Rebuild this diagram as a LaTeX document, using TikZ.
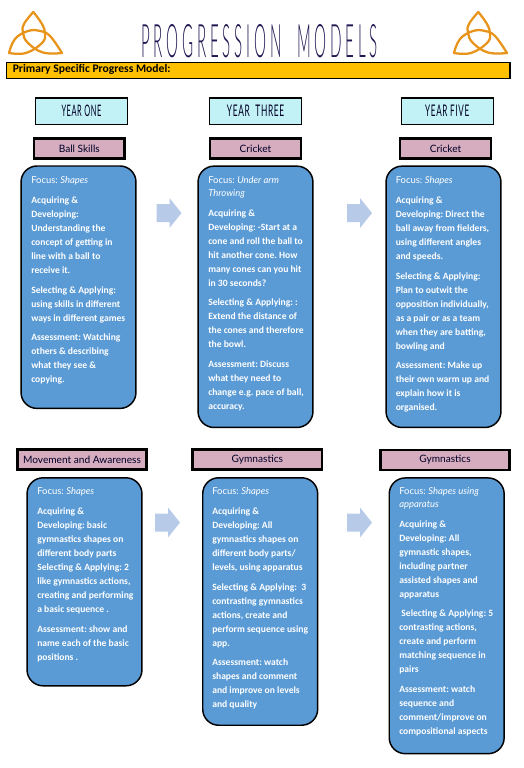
\documentclass[tikz,border=0pt]{standalone}
\usepackage{fontspec}
\setmainfont{Carlito}
\frenchspacing
\newfontfamily\focusfont{Lato}
\newfontfamily\topicfont{Lato}
\newfontfamily\thinfont[LetterSpace=25]{Lato Light}
\newfontfamily\yearfont[LetterSpace=8]{Lato}
\definecolor{boxblue}{HTML}{5B9BD5}
\definecolor{topicpink}{HTML}{D6ACBF}
\definecolor{yearcyan}{HTML}{C3F2F6}
\definecolor{bannergold}{HTML}{FFC000}
\definecolor{arrowblue}{HTML}{B7CBE8}
\definecolor{knotorange}{HTML}{E8941A}
\definecolor{titlenavy}{HTML}{1E1650}
\newcommand{\yearlabel}[1]{\resizebox{#1}{8.6pt}}
\newcommand{\fc}[1]{{\mdseries\focusfont\fontsize{7.1}{9.75}\selectfont Focus: \itshape #1}}
\newcommand{\fcb}[1]{{\mdseries\focusfont\fontsize{7.1}{9.75}\selectfont\itshape #1}}
\tikzset{
  x=0.75pt,y=-0.75pt,
  banner/.style={draw=black,line width=0.9pt,fill=bannergold,minimum width=378pt,minimum height=12.4pt,inner sep=0pt},
  yearbox/.style={draw=black,line width=0.8pt,fill=yearcyan,minimum width=69pt,minimum height=19.8pt,inner sep=0pt,text=black!85!blue},
  topicbox/.style={draw=black,line width=1.9pt,fill=topicpink,minimum height=15.2pt,inner sep=0pt,text=black!85!blue,font=\topicfont\fontsize{7.6}{9}\selectfont},
  bigbox/.style={draw=black,line width=1.1pt,fill=boxblue,rounded corners=12pt,minimum width=86.2pt,inner sep=0pt},
  bodytext/.style={anchor=north west,inner sep=0pt,text=white,align=left,font=\bfseries\fontsize{7.2}{10.5}\selectfont},
  pics/blockarrow/.style={code={\fill[arrowblue] (-12.5,-9) -- (0.5,-9) -- (0.5,-15) -- (12.5,0) -- (0.5,15) -- (0.5,9) -- (-12.5,9) -- cycle;}},
  pics/knot/.style={code={
    \begin{scope}[knotorange,line width=1.7pt,line cap=round]
      \draw plot[smooth,tension=0.7] coordinates {(33.3,12) (24,24) (23,33) (28,43) (43,52.5) (62,53)};
      \draw plot[smooth,tension=0.7] coordinates {(33.3,12) (42,24) (45,34) (42,43) (26,53) (9,53)};
      \draw plot[smooth,tension=0.7] coordinates {(9,53) (15,39) (28,31) (40,31) (50,36) (62,53)};
    \end{scope}}},
}
\begin{document}
\begin{tikzpicture}
\useasboundingbox (0,0) rectangle (524,768);
\pic at (0,0) {knot};
\pic at (445,0) {knot};
\node[inner sep=0pt,text=titlenavy] (title) at (259.5,41.5) {\resizebox{177.75pt}{24.75pt}{\thinfont PROGRESSION\ \ MODELS}};
\node[banner] (banner) at (258.5,70.5) {};
\node[anchor=west,inner sep=0pt,font=\bfseries\fontsize{8.7}{11}\selectfont] (bannertext) at (12.5,69.5) {Primary Specific Progress Model:};
\draw[black,line width=0.7pt] (509,62) -- (509,79);

\node[yearbox] (y1) at (81.5,111.2) {\yearlabel{30pt}{\yearfont YEAR ONE}};
\node[yearbox] (y3) at (255.6,111.2) {\yearlabel{43pt}{\yearfont YEAR\ \ THREE}};
\node[yearbox] (y5) at (447.2,111.2) {\yearlabel{33pt}{\yearfont YEAR FIVE}};

\node[topicbox,minimum width=68pt] (t1) at (79.3,148.5) {Ball Skills};
\node[topicbox,minimum width=68pt] (t2) at (255.5,148.5) {Cricket};
\node[topicbox,minimum width=68pt] (t3) at (445.5,148.5) {Cricket};
\node[topicbox,minimum width=97pt] (t4) at (82,459.5) {Movement and Awareness};
\node[topicbox,minimum width=97pt] (t5) at (257.3,459.5) {Gymnastics};
\node[topicbox,minimum width=97pt] (t6) at (445,460) {Gymnastics};

\node[bigbox,minimum height=181.8pt] (b1) at (78.5,287.2) {};
\node[bigbox,minimum height=196pt] (b2) at (255.5,296.8) {};
\node[bigbox,minimum height=196pt] (b3) at (443.5,296.8) {};
\node[bigbox,minimum height=156pt] (b4) at (84.5,581.8) {};
\node[bigbox,minimum height=185.6pt] (b5) at (260.2,601.5) {};
\node[bigbox,minimum height=206.8pt] (b6) at (446.7,615.8) {};

\pic at (169,213) {blockarrow};
\pic at (359.5,213) {blockarrow};
\pic at (167.5,522.5) {blockarrow};
\pic at (359.5,522.5) {blockarrow};

\node[bodytext] (x1) at (31,176.5) {\fc{Shapes}\\[4.3pt]
Acquiring \&\\Developing:\\Understanding the\\concept of getting in\\line with a ball to\\receive it.\\[4.3pt]
Selecting \& Applying:\\using skills in different\\ways in different games\\[4.3pt]
Assessment: Watching\\others \& describing\\what they see \&\\copying.};
\node[bodytext] (x2) at (208,176.5) {\fc{Under arm}\\[-1pt]\fcb{Throwing}\\[4.3pt]
Acquiring \&\\Developing: -Start at a\\cone and roll the ball to\\hit another cone. How\\many cones can you hit\\in 30 seconds?\\[4.3pt]
Selecting \& Applying: :\\Extend the distance of\\the cones and therefore\\the bowl.\\[4.3pt]
Assessment: Discuss\\what they need to\\change e.g. pace of ball,\\accuracy.};
\node[bodytext] (x3) at (395.5,176.5) {\fc{Shapes}\\[4.3pt]
Acquiring \&\\Developing: Direct the\\ball away from fielders,\\using different angles\\and speeds.\\[4.3pt]
Selecting \& Applying:\\Plan to outwit the\\opposition individually,\\as a pair or as a team\\when they are batting,\\bowling and\\[4.3pt]
Assessment: Make up\\their own warm up and\\explain how it is\\organised.};
\node[bodytext] (x4) at (37,487.5) {\fc{Shapes}\\[4.3pt]
Acquiring \&\\Developing: basic\\gymnastics shapes on\\different body parts\\Selecting \& Applying: 2\\like gymnastics actions,\\creating and performing\\a basic sequence .\\[4.3pt]
Assessment: show and\\name each of the basic\\positions .};
\node[bodytext] (x5) at (212,487.5) {\fc{Shapes}\\[4.3pt]
Acquiring \&\\Developing: All\\gymnastics shapes on\\different body parts/\\levels, using apparatus\\[4.3pt]
Selecting \& Applying:\ \ 3\\contrasting gymnastics\\actions, create and\\perform sequence using\\app.\\[4.3pt]
Assessment: watch\\shapes and comment\\and improve on levels\\and quality};
\node[bodytext] (x6) at (399,487.5) {\fc{Shapes using}\\[-1pt]\fcb{apparatus}\\[4.3pt]
Acquiring \&\\Developing: All\\gymnastic shapes,\\including partner\\assisted shapes and\\apparatus\\[4.3pt]
\hspace*{1.6pt}Selecting \& Applying: 5\\contrasting actions,\\create and perform\\matching sequence in\\pairs\\[4.3pt]
Assessment: watch\\sequence and\\comment/improve on\\compositional aspects};
\end{tikzpicture}
\end{document}
